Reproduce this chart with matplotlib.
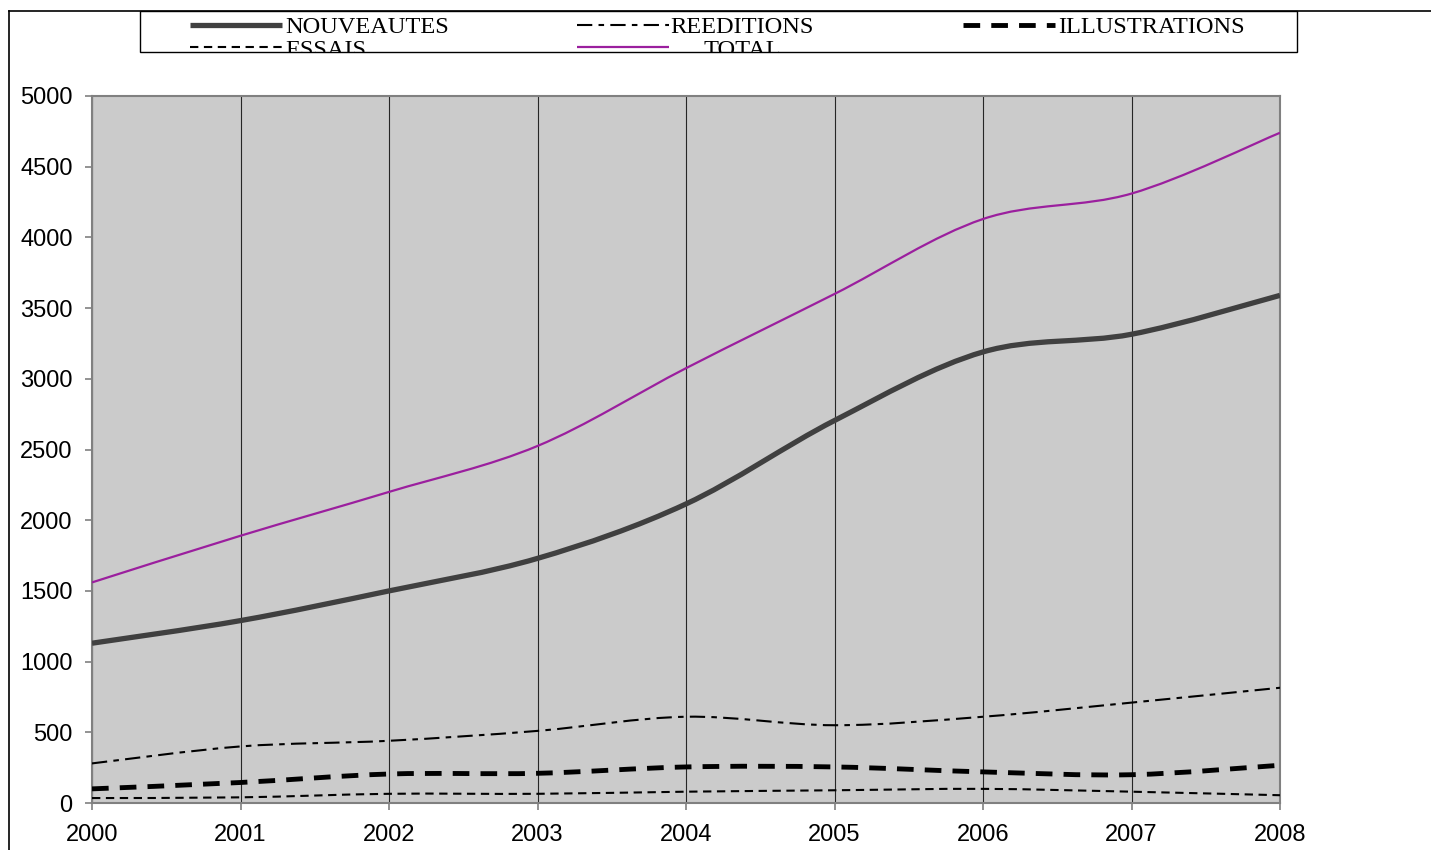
import matplotlib
matplotlib.use("Agg")
import matplotlib.pyplot as plt
from matplotlib.lines import Line2D
from matplotlib.patches import Rectangle, PathPatch
from matplotlib.path import Path

plt.rcParams['lines.scale_dashes'] = False

# ---- data ----
years = [2000, 2001, 2002, 2003, 2004, 2005, 2006, 2007, 2008]
nouveautes = [1130, 1290, 1500, 1730, 2115, 2705, 3190, 3315, 3590]
reeditions = [280, 400, 440, 510, 610, 550, 610, 710, 815]
illustrations = [100, 145, 205, 210, 255, 255, 220, 200, 267]
essais = [35, 40, 65, 65, 80, 90, 100, 80, 55]
total = [1560, 1890, 2200, 2525, 3075, 3600, 4130, 4310, 4740]
series_names = ["NOUVEAUTES", "REEDITIONS", "ILLUSTRATIONS", "ESSAIS", "TOTAL"]
y_ticks = [0, 500, 1000, 1500, 2000, 2500, 3000, 3500, 4000, 4500, 5000]

W, H = 1431, 850
fig = plt.figure(figsize=(W / 100, H / 100), dpi=100)

def fx(x):
    return x / W

def fy(y):
    return 1 - y / H

ax = fig.add_axes([fx(92), fy(803), fx(1280) - fx(92), fy(96) - fy(803)])
ax.set_facecolor('#cbcbcb')

styles = {
    "NOUVEAUTES": dict(color='#404040', lw=3.8, ls='-'),
    "REEDITIONS": dict(color='black', lw=1.5, ls=(0, (11, 4.5, 4, 4.5))),
    "ILLUSTRATIONS": dict(color='black', lw=3.5, ls=(0, (12, 8))),
    "ESSAIS": dict(color='black', lw=1.5, ls=(0, (6, 4))),
    "TOTAL": dict(color='#9b1f9e', lw=1.6, ls='-'),
}
data = {
    "NOUVEAUTES": nouveautes,
    "REEDITIONS": reeditions,
    "ILLUSTRATIONS": illustrations,
    "ESSAIS": essais,
    "TOTAL": total,
}


def smooth_path(xs, ys):
    """Excel-like smoothed line: cubic Bezier segments through the data points."""
    n = len(xs)
    verts = [(xs[0], ys[0])]
    codes = [Path.MOVETO]
    for i in range(n - 1):
        x0, y0 = xs[max(i - 1, 0)], ys[max(i - 1, 0)]
        x1, y1 = xs[i], ys[i]
        x2, y2 = xs[i + 1], ys[i + 1]
        x3, y3 = xs[min(i + 2, n - 1)], ys[min(i + 2, n - 1)]
        c1 = (x1 + (x2 - x0) / 6.0, y1 + (y2 - y0) / 6.0)
        c2 = (x2 - (x3 - x1) / 6.0, y2 - (y3 - y1) / 6.0)
        verts += [c1, c2, (x2, y2)]
        codes += [Path.CURVE4, Path.CURVE4, Path.CURVE4]
    return Path(verts, codes)


for name in series_names:
    st = styles[name]
    patch = PathPatch(smooth_path(years, data[name]), facecolor='none',
                      edgecolor=st['color'], lw=st['lw'], linestyle=st['ls'],
                      capstyle='butt', joinstyle='round', zorder=3,
                      transform=ax.transData, label=name)
    ax.add_patch(patch)

ax.set_xlim(years[0], years[-1])
ax.set_ylim(0, 5000)
ax.set_xticks(years)
ax.set_xticklabels([str(y) for y in years])
ax.set_yticks(y_ticks)
ax.set_yticklabels([str(v) for v in y_ticks])
ax.set_axisbelow(True)
ax.grid(axis='x', color='#262626', lw=0.8)
ax.grid(axis='y', visible=False)

for s in ax.spines.values():
    s.set_color('#808080')
    s.set_linewidth(1.5)

ax.tick_params(axis='both', direction='out', color='#808080', width=1.2,
               length=5, labelsize=17, labelcolor='black')
ax.tick_params(axis='y', pad=9)
ax.tick_params(axis='x', pad=10)
for lab in ax.get_xticklabels() + ax.get_yticklabels():
    lab.set_fontfamily(['Liberation Sans', 'DejaVu Sans'])

# ---- figure border lines ----
fig.add_artist(Line2D([fx(9), fx(9)], [fy(11), fy(850)], color='black', lw=1.2,
                      transform=fig.transFigure))
fig.add_artist(Line2D([fx(9), fx(1431)], [fy(11), fy(11)], color='black', lw=1.2,
                      transform=fig.transFigure))

# ---- legend (manual, clipped box like the original) ----
box = Rectangle((fx(140), fy(52)), fx(1297) - fx(140), fy(11) - fy(52),
                transform=fig.transFigure, facecolor='white', edgecolor='black',
                lw=1.0, zorder=5)
fig.add_artist(box)

legend_layout = [
    ("NOUVEAUTES", 190, 25, 285, 33),
    ("REEDITIONS", 577, 25, 670, 33),
    ("ILLUSTRATIONS", 963, 25, 1058, 33),
    ("ESSAIS", 190, 47, 285, 56),
    ("TOTAL", 577, 47, 703, 56),
]
for name, hx, hy, tx, ty in legend_layout:
    st = styles[name]
    ln = Line2D([fx(hx), fx(hx + 92)], [fy(hy), fy(hy)], color=st['color'],
                lw=st['lw'], linestyle=st['ls'], transform=fig.transFigure,
                solid_capstyle='butt', dash_capstyle='butt', zorder=6)
    fig.add_artist(ln)
    t = fig.text(fx(tx), fy(ty), name, fontsize=17.6,
                 family=['Liberation Serif', 'DejaVu Serif'],
                 ha='left', va='baseline', zorder=6)
    t.set_clip_path(box)

fig.savefig('out.png', dpi=100)
